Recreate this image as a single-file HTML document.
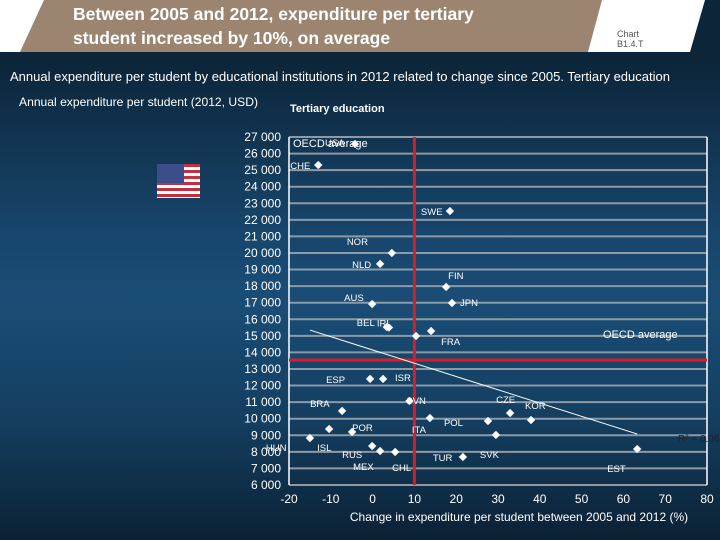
<!DOCTYPE html>
<html><head><meta charset="utf-8">
<style>
html,body{margin:0;padding:0;}
body{width:720px;height:540px;overflow:hidden;font-family:"Liberation Sans",sans-serif;}
#bg{position:absolute;left:0;top:0;width:720px;height:540px;background:linear-gradient(180deg,#0b2336 0px,#0c2539 60px,#17456b 230px,#1a4d76 300px,#143e60 420px,#0b2134 540px);}
</style></head>
<body>
<div id="bg"></div>
<svg id="chart" width="720" height="540" style="position:absolute;left:0;top:0">
  <polygon points="0,0 720,0 720,52 0,52" fill="#ffffff"/>
  <polygon points="44,0 602,0 588,52 20,52" fill="#9b8470"/>
  <polygon points="705,0 720,0 720,52 690,52" fill="#0c2539"/>
  <text x="73" y="20" font-size="17.5" font-weight="bold" fill="#fff">Between 2005 and 2012, expenditure per tertiary</text>
  <text x="73" y="44" font-size="17.5" font-weight="bold" fill="#fff">student increased by 10%, on average</text>
  <text x="617" y="37" font-size="9" fill="#555">Chart</text>
  <text x="617" y="47" font-size="9" fill="#555">B1.4.T</text>
  <text x="10" y="81" font-size="13" fill="#fff" textLength="660" lengthAdjust="spacingAndGlyphs">Annual expenditure per student by educational institutions in 2012 related to change since 2005. Tertiary education</text>
  <text x="19" y="106" font-size="12" fill="#fff" textLength="239" lengthAdjust="spacingAndGlyphs">Annual expenditure per student  (2012, USD)</text>
  <text x="290" y="112" font-size="11" font-weight="bold" fill="#fff">Tertiary education</text>
  <g>
    <rect x="157" y="164" width="43" height="34" fill="#fff"/>
    <rect x="157" y="164" width="43" height="3" fill="#c23040"/><rect x="157" y="170" width="43" height="3" fill="#c23040"/><rect x="157" y="176" width="43" height="3" fill="#c23040"/><rect x="157" y="182" width="43" height="3" fill="#c23040"/><rect x="157" y="188" width="43" height="3" fill="#c23040"/><rect x="157" y="194" width="43" height="3" fill="#c23040"/>
    <rect x="157" y="164" width="27" height="19" fill="#3b4e8a"/>
  </g>
  <g id="grid"></g><g id="marks"></g>
</svg>
<script>
const countries=["USA","CHE","SWE","NOR","NLD","FIN","JPN","AUS","BEL","IRL","FRA","","ESP","ISR","SVN","BRA","ITA","POL","CZE","KOR","SVK","POR","ISL","HUN","RUS","MEX","CHL","TUR","EST"];
const changeValues=[-4.2,-13.0,18.5,4.6,1.8,17.6,19.0,-0.1,3.4,3.9,14.0,10.4,-0.6,2.5,8.8,-7.3,13.7,27.6,32.9,37.9,29.5,-4.9,-10.4,-15.0,-0.1,1.8,5.4,21.6,63.3];
const spendValues=[26580,25310,22530,20000,19340,17950,16980,16920,15530,15500,15290,14990,12400,12400,11070,10470,10040,9860,10340,9920,9020,9200,9380,8830,8350,8050,7990,7690,8170];
const yTicks=[6000,7000,8000,9000,10000,11000,12000,13000,14000,15000,16000,17000,18000,19000,20000,21000,22000,23000,24000,25000,26000,27000];
const xTicks=[-20,-10,0,10,20,30,40,50,60,70,80];
const oecdAvg=[10,13540];
const trend=[[-15,15350],[63.3,9076]];
const labelOffsets={USA:[-30,2],CHE:[-28,4],SWE:[-29,4],NOR:[-45,-8],NLD:[-28,4],FIN:[2,-8],JPN:[8,3],AUS:[-28,-3],BEL:[-30,-1],IRL:[-12,-1],FRA:[10,14],ESP:[-44,4],ISR:[12,2],SVN:[-3,3],BRA:[-32,-4],ITA:[-18,15],POL:[-44,5],CZE:[-14,-10],KOR:[-6,-11],SVK:[-16,23],POR:[0,-1],ISL:[-12,22],HUN:[-44,13],RUS:[-30,12],MEX:[-27,19],CHL:[-3,19],TUR:[-30,4],EST:[-30,23]};
const X=v=>372.6+v*4.18, Y=v=>137+(27000-v)*0.01657;
const ns="http://www.w3.org/2000/svg";
function mk(parent,tag,attrs,text){const e=document.createElementNS(ns,tag);for(const k in attrs)e.setAttribute(k,attrs[k]);if(text!==undefined)e.textContent=text;document.getElementById(parent).appendChild(e);return e;}
yTicks.forEach(t=>{
  const l=mk("grid","line",{x1:X(-20),x2:X(80),y1:Y(t),y2:Y(t),stroke:"#8d9aa6","stroke-width":2});
  
  
  const tx=mk("grid","text",{x:281,y:Y(t)+4,"font-size":12,fill:"#fff","text-anchor":"end"},t.toLocaleString('en-US').replace(',',' '));
  
  
});
xTicks.forEach(t=>{
  const tx=mk("grid","text",{x:X(t),y:503,"font-size":12,fill:"#fff","text-anchor":"middle"},String(t));
  
  
});
const ax=mk("grid","line",{x1:X(-20),x2:X(-20),y1:Y(27000),y2:Y(6000),stroke:"#fff","stroke-width":1.5});


const ax2=mk("grid","line",{x1:X(80),x2:X(80),y1:Y(27000),y2:Y(6000),stroke:"#fff","stroke-width":1.5});


const xt=mk("grid","text",{x:519,y:521,"font-size":12,fill:"#fff","text-anchor":"middle"},"Change in expenditure per  student between 2005 and 2012 (%)");


const rv=mk("grid","line",{x1:X(oecdAvg[0]),x2:X(oecdAvg[0]),y1:Y(27000),y2:Y(6000),stroke:"#d41f28","stroke-width":3});


const rh=mk("grid","line",{x1:X(-20),x2:X(80),y1:Y(oecdAvg[1]),y2:Y(oecdAvg[1]),stroke:"#d41f28","stroke-width":3});


const t1=mk("grid","text",{x:603,y:338,"font-size":11,fill:"#fff"},"OECD average");


const t2=mk("grid","text",{x:293,y:147,"font-size":11,fill:"#fff"},"OECD average");


const tl=mk("marks","line",{x1:X(trend[0][0]),y1:Y(trend[0][1]),x2:X(trend[1][0]),y2:Y(trend[1][1]),stroke:"#fff","stroke-width":1});


const r2=mk("marks","text",{x:678,y:442,"font-size":10,fill:"#222"},"R² = 0.06");


countries.forEach((c,i)=>{
  const px=X(changeValues[i]),py=Y(spendValues[i]);
  const d=mk("marks","polygon",{points:`${px},${py-4} ${px+4},${py} ${px},${py+4} ${px-4},${py}`,fill:"#fff",stroke:"#dde","stroke-width":0.5});
  
  
  if(c){const o=labelOffsets[c]||[6,4];
    const t=mk("marks","text",{x:px+o[0],y:py+o[1],"font-size":9.5,fill:"#fff"},c);
    
    }
});
</script>
</body></html>
